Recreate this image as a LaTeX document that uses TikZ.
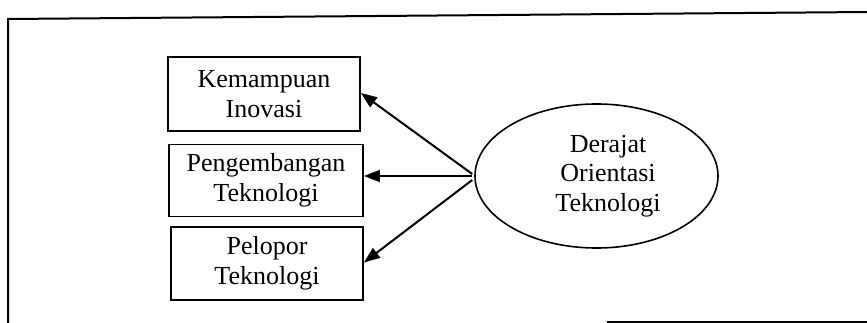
\documentclass[tikz,border=0pt]{standalone}
\usepackage{fontspec}
\setmainfont{Liberation Serif}
\usetikzlibrary{arrows.meta,shapes.geometric}

\tikzset{
  frame/.style={line width=2pt, line cap=rect},
  box/.style={draw, line width=1.8pt, rectangle, inner sep=0pt,
    align=center, font=\fontsize{26pt}{29.5pt}\selectfont},
  oval/.style={draw, line width=1.6pt, ellipse, inner sep=0pt},
  txt/.style={inner sep=0pt, align=center, font=\fontsize{26pt}{29.5pt}\selectfont},
  arr/.style={line width=2pt, -{Triangle[length=16pt,width=12pt]}}
}

\begin{document}
\begin{tikzpicture}[x=1pt,y=-1pt]
  \useasboundingbox (0,0) rectangle (867,323);

  % open frame round the figure
  \coordinate (fbl) at (8,324);
  \coordinate (ftl) at (8,19);
  \coordinate (ftr) at (868,12);
  \coordinate (fbr1) at (608,322);
  \coordinate (fbr2) at (868,322);
  \draw[frame] (fbl) -- (ftl) -- (ftr);
  \draw[frame] (fbr1) -- (fbr2);

  % indicator boxes
  \node[box, minimum width=192pt, minimum height=74pt] (kem) at (264,94)
    {Kemampuan\\Inovasi};
  \node[box, minimum width=194pt, minimum height=72pt] (pen) at (266,180.5)
    {Pengembangan\\Teknologi};
  \node[box, minimum width=192pt, minimum height=73pt] (pel) at (267,263.5)
    {Pelopor\\Teknologi};

  % latent construct
  \node[oval, minimum width=243pt, minimum height=144pt] (der) at (596.5,176) {};
  \node[txt] (dert) at (608,176) {Derajat\\Orientasi\\Teknologi};

  % loadings
  \coordinate (src) at ([xshift=-2pt]der.west);
  \draw[arr] ([yshift=2pt]src) -- ([yshift=1pt]kem.east);
  \draw[arr] (src) -- (src -| pen.east);
  \draw[arr] ([yshift=-4pt]src) -- ([yshift=1pt]pel.east);
\end{tikzpicture}
\end{document}
